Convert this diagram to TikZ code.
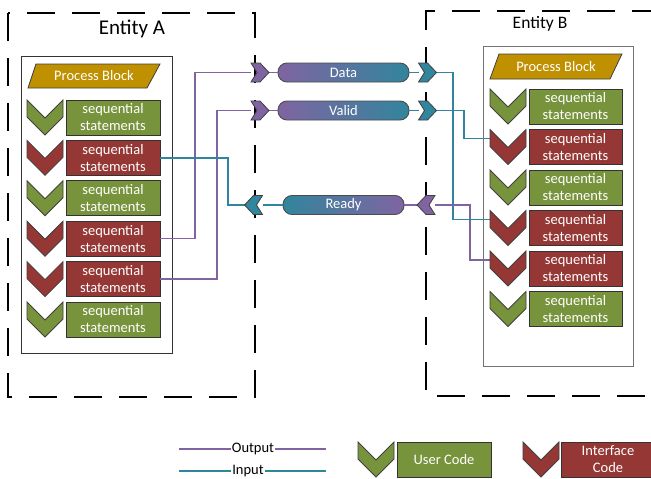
\documentclass[tikz,border=0pt]{standalone}
\usepackage{fontspec}
\setmainfont{Carlito}
\usetikzlibrary{calc}

\definecolor{usergreen}{RGB}{119,147,60}
\definecolor{ifred}{RGB}{149,55,53}
\definecolor{gold}{RGB}{191,144,0}
\definecolor{outc}{RGB}{128,100,162}
\definecolor{inc}{RGB}{49,133,156}

\tikzset{
  entity/.style={line width=1.8pt, dash pattern=on 28pt off 17pt},
  stbox/.style={draw=black!80, line width=0.9pt, minimum width=94pt, minimum height=35pt,
    inner sep=0pt, align=center, text=white, font=\fontsize{14.5}{17}\selectfont},
  chevline/.style={draw=black!75, line width=0.8pt, line join=miter},
  chevnode/.style={minimum width=18pt, minimum height=19pt, inner sep=0pt, outer sep=0pt},
  pill/.style={draw=black!70, line width=0.9pt, rounded corners=9pt, minimum height=19pt,
    inner sep=0pt, text=white, font=\fontsize{14.5}{16}\selectfont},
  outl/.style={outc, line width=1.5pt},
  inl/.style={inc, line width=1.5pt},
  lbl/.style={inner sep=0pt, font=\fontsize{14.5}{16}\selectfont},
}

\newcommand{\chevDn}[3]{\draw[chevline, fill=#3] (#1,#2) -- ++(18,18) -- ++(18,-18) -- ++(0,17) -- ++(-18,18) -- ++(-18,-18) -- cycle;}
\newcommand{\chevR}[2]{\draw[chevline, fill=#2] (#1.north west) -- ++(9,0) -- ++(9,9.5) -- ++(-9,9.5) -- ++(-9,0) -- ++(6,-9.5) -- cycle;}
\newcommand{\chevL}[2]{\draw[chevline, fill=#2] (#1.north east) -- ++(-9,0) -- ++(-9,9.5) -- ++(9,9.5) -- ++(9,0) -- ++(-6,-9.5) -- cycle;}

\begin{document}
\begin{tikzpicture}[x=1pt, y=-1pt]
		\clip (0,0) rectangle (651,479);
		\fill[white] (0,0) rectangle (651,479);
		% entities
		\draw[entity] (8,13) rectangle (255,397);
		\draw[entity] (660,11) -- (426,11) -- (426,396) -- (660,396);
		\node[lbl, font=\fontsize{21}{23}\selectfont] (entA) at (132,28.5) {Entity A};
		\node[lbl, font=\fontsize{17.5}{19}\selectfont] (entB) at (540,24) {Entity B};
		% process blocks
		\draw[black!80, line width=0.9pt] (21,56) rectangle (172,353);
		\draw[black!55, line width=0.9pt] (483,46) rectangle (633,366);
		\draw[chevline, fill=gold] (28,88) -- (36,64) -- (160,64) -- (147,88) -- cycle;
		\draw[chevline, fill=gold] (490,79) -- (499,54) -- (622,54) -- (610,79) -- cycle;
		\node[lbl, text=white] (pbA) at (94,76) {Process Block};
		\node[lbl, text=white] (pbB) at (556,66.5) {Process Block};
		\foreach \i/\c in {1/usergreen,2/ifred,3/usergreen,4/ifred,5/ifred,6/usergreen}{
			\pgfmathsetmacro\ya{100+40.4*(\i-1)}
			\pgfmathsetmacro\yb{89+40.5*(\i-1)}
			\node[stbox, fill=\c] (sa\i) at (113,\ya+17.5) {sequential\\statements};
			\node[stbox, fill=\c, minimum width=93pt] (sb\i) at (575.5,\yb+17.5) {sequential\\statements};
			\coordinate (cb\i) at (490,\yb+9);
		}
		% channels
		\node[pill, minimum width=131pt, left color=outc, right color=inc] (data) at (343.5,72.5) {Data};
		\node[pill, minimum width=131pt, left color=outc, right color=inc] (valid) at (343.5,110.5) {Valid};
		\node[pill, minimum width=121pt, left color=inc, right color=outc] (ready) at (343.5,205) {Ready};
		\node[chevnode] (dl) at (260,72.5) {};
		\node[chevnode] (dr) at (427.5,72.5) {};
		\node[chevnode] (vl) at (260,110.5) {};
		\node[chevnode] (vr) at (427.5,110.5) {};
		\node[chevnode] (rl) at (253.5,205) {};
		\node[chevnode] (rr) at (426,205) {};
		\coordinate (xa1) at (195,0);
		\coordinate (xa2) at (217,0);
		\coordinate (xa3) at (228,0);
		\coordinate (xb1) at (453,0);
		\coordinate (xb2) at (464,0);
		\coordinate (xb3) at (470,0);
		% connectors
		\draw[outl] (sa4.east) -| (xa1 |- dl.west) -- (dl.west);
		\draw[outl] (sa5.east) -| (xa2 |- vl.west) -- (vl.west);
		\draw[inl] (sa2.east) -| (xa3 |- rl.west) -- (rl.west);
		\draw[outl] (dl.east) -- (data.west);
		\draw[outl] (vl.east) -- (valid.west);
		\draw[inl] (data.east) -- (dr.west);
		\draw[inl] (valid.east) -- (vr.west);
		\draw[inl] (ready.west) -- (rl.east);
		\draw[outl] (ready.east) -- (rr.west);
		\draw[inl] (dr.east) -| (xb1 |- cb4) -- (cb4);
		\draw[inl] (vr.east) -| (xb2 |- cb2) -- (cb2);
		\draw[outl] (cb5) -| (xb3 |- rr.east) -- (rr.east);
		\fill[inc] (xa1 |- sa2.east) circle (1.6);
		\fill[inc] (xa2 |- sa2.east) circle (1.6);
		\fill[inc] (xb1 |- vr.east) circle (1.6);
		\fill[outc] (xb1 |- rr.east) circle (1.6);
		\fill[inc] (xb3 |- cb4) circle (1.6);
		% chevrons
		\foreach \i/\c in {1/usergreen,2/ifred,3/usergreen,4/ifred,5/ifred,6/usergreen}{
			\pgfmathsetmacro\ya{100+40.4*(\i-1)}
			\pgfmathsetmacro\yb{89+40.5*(\i-1)}
			\chevDn{27}{\ya}{\c}
			\chevDn{490}{\yb}{\c}
		}
		\chevR{dl}{outc} \chevR{vl}{outc}
		\chevR{dr}{inc} \chevR{vr}{inc}
		\chevL{rl}{inc} \chevL{rr}{outc}
		% legend
		\node[lbl, fill=white, inner xsep=1pt] (outlbl) at (253,449) {Output};
		\node[lbl, fill=white, inner xsep=1pt] (inlbl) at (248,471) {Input};
		\coordinate (lo1) at (179,449);
		\coordinate (lo2) at (326,449);
		\coordinate (li1) at (179,471);
		\coordinate (li2) at (326,471);
		\draw[outl] (lo1) -- (outlbl.west) (outlbl.east) -- (lo2);
		\draw[inl] (li1) -- (inlbl.west) (inlbl.east) -- (li2);
		\chevDn{358}{442}{usergreen}
		\chevDn{523}{442}{ifred}
		\node[stbox, fill=usergreen] (user) at (444,459.5) {User Code};
		\node[stbox, fill=ifred] (iface) at (608,459.5) {Interface\\Code};
	\end{tikzpicture}
\end{document}
